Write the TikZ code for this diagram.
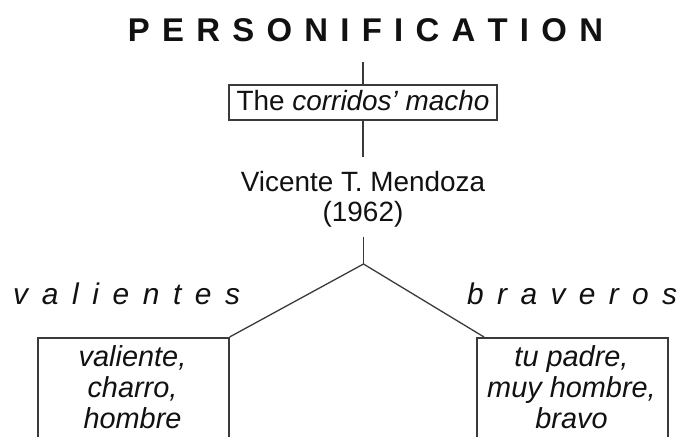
\documentclass[tikz,border=0pt]{standalone}
\usepackage{fontspec}
\setmainfont{Liberation Sans}
\definecolor{linegray}{HTML}{3A3A3A}
\definecolor{ink}{HTML}{111111}
\begin{document}
\begin{tikzpicture}[x=1bp,y=-1bp,
  conn/.style={draw=linegray, line width=1.3bp},
  boxed/.style={draw=linegray, line width=1.6bp, inner sep=0pt},
  txt/.style={inner sep=0pt, anchor=base, text=ink, font=\fontsize{28}{32}\selectfont},
  itxt/.style={txt, font=\fontsize{29}{32}\selectfont\itshape},
  cat/.style={inner sep=0pt, anchor=base, text=ink, font=\fontsize{30}{34}\selectfont\itshape}]
\useasboundingbox (0,0) rectangle (685,437);
% title
\node[inner sep=0pt, anchor=base, text=ink, font=\fontsize{33}{36}\selectfont\bfseries] (title) at (365.5,42)
  {\makebox[475bp][s]{P\hfill E\hfill R\hfill S\hfill O\hfill N\hfill I\hfill F\hfill I\hfill C\hfill A\hfill T\hfill I\hfill O\hfill N}};
\coordinate (t1) at (363,62);
% top box
\node[boxed, minimum width=268bp, minimum height=35bp] (macho) at (363,102.5) {};
\node[txt] (machotxt) at (363,111) {The \textit{corridos’ macho}};
\draw[conn] (t1) -- (macho.north);
% Mendoza
\coordinate (m1) at (363,157);
\draw[conn] (macho.south) -- (m1);
\node[txt] (mendoza) at (363,192) {Vicente T. Mendoza};
\node[txt] (year) at (363,222) {(1962)};
\coordinate (j0) at (363.5,237);
\coordinate (j) at (363.5,264);
\draw[conn] (j0) -- (j);
% categories
\node[cat, anchor=base west] (val) at (13,305)
  {\makebox[227bp][s]{v\hfill a\hfill l\hfill i\hfill e\hfill n\hfill t\hfill e\hfill s}};
\node[cat, anchor=base west] (bra) at (467,305)
  {\makebox[210bp][s]{b\hfill r\hfill a\hfill v\hfill e\hfill r\hfill o\hfill s}};
% bottom boxes
\node[boxed, anchor=north west, minimum width=191bp, minimum height=115bp] (lbox) at (37,337) {};
\node[boxed, anchor=north west, minimum width=191bp, minimum height=115bp] (rbox) at (476,337) {};
\coordinate (rtop) at (484,337);
\draw[conn] (j) -- (lbox.north east);
\draw[conn] (j) -- (rtop);
% box texts
\node[itxt] (l1) at (132.5,366) {valiente,};
\node[itxt] (l2) at (132.5,397) {charro,};
\node[itxt] (l3) at (132.5,428) {hombre};
\node[itxt] (r1) at (571.5,366) {tu padre,};
\node[itxt] (r2) at (571.5,397) {muy hombre,};
\node[itxt] (r3) at (571.5,428) {bravo};
\end{tikzpicture}
\end{document}
